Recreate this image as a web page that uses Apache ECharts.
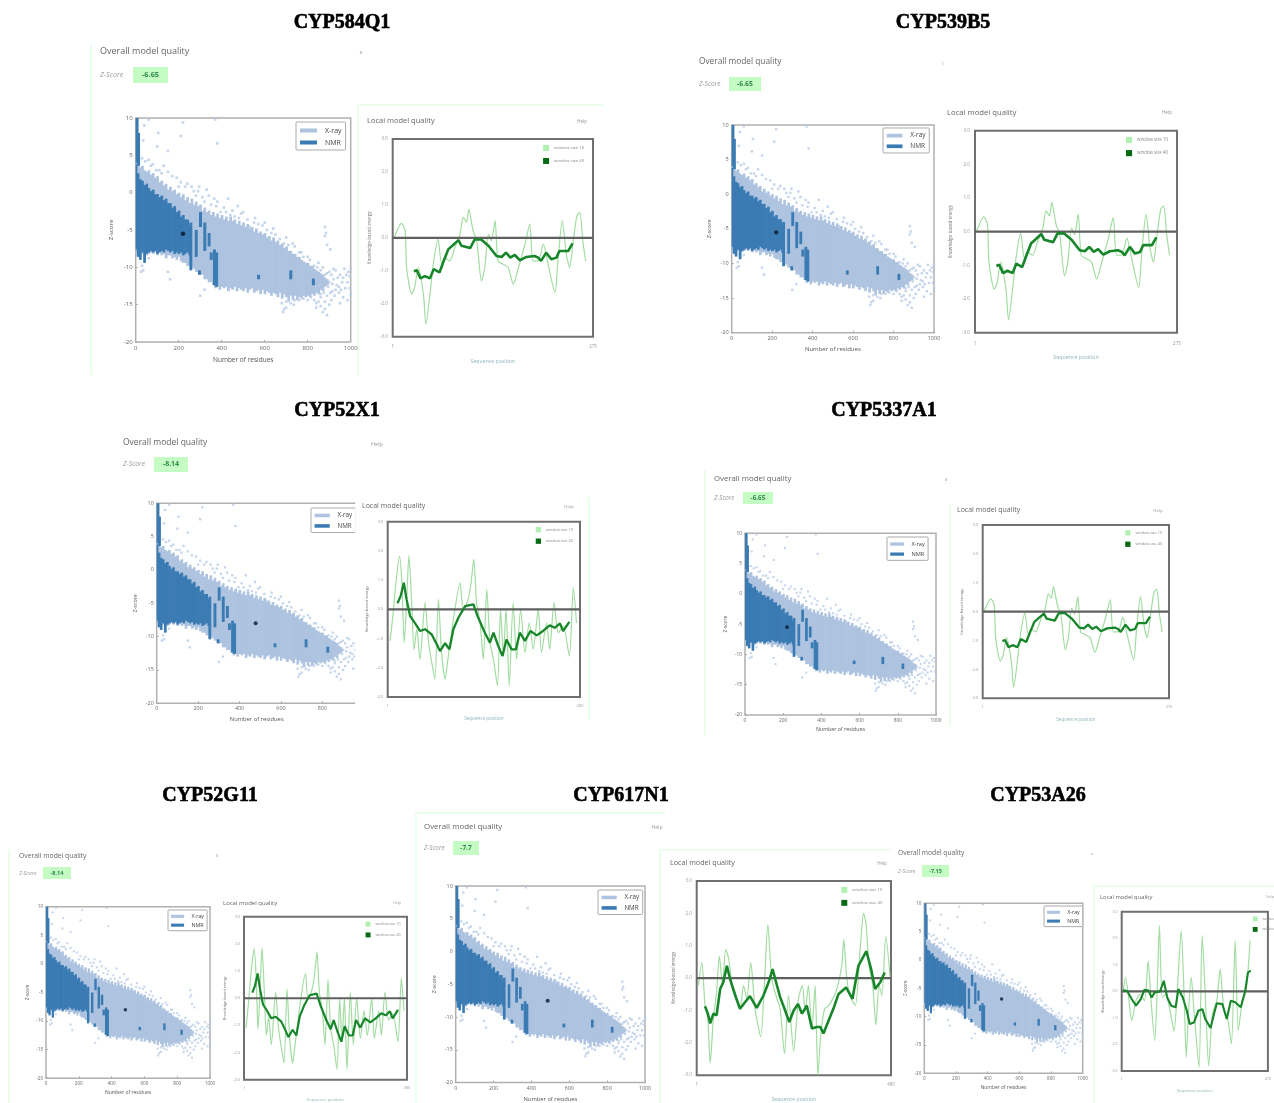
<!DOCTYPE html>
<html><head><meta charset="utf-8">
<style>html,body{margin:0;padding:0;background:#fff}#c{width:1274px;height:1103px;filter:blur(0.7px)}</style>
<script src="https://cdn.jsdelivr.net/npm/echarts@6/dist/echarts.min.js"></script></head>
<body><div id="c"></div>
<script>
// ---- shared reference cloud: [residues, top z, bottom z]
const xrayColumns=[[0,5,-8],[10,4,-8.4],[20,3.4,-8.8],[30,3.6,-8.2],[40,3,-9.2],[50,2.8,-8.4],[60,3,-8.2],[70,2.4,-8],[80,2.6,-8.2],[90,2,-8],[100,2.2,-8.4],[110,1.4,-8],[120,1.6,-8.4],[130,1,-8.2],[140,1.2,-8.8],[150,0.4,-8.4],[160,0.8,-8.4],[170,0.2,-8.8],[180,0.4,-8.6],[190,-0.2,-9],[200,0,-8.6],[210,-0.6,-9.2],[220,-0.2,-9.4],[230,-1,-9.4],[240,-0.6,-9.8],[250,-1.4,-9.8],[260,-0.8,-10],[270,-1.6,-10.2],[280,-1.2,-10.6],[290,-1.8,-10.6],[300,-1.6,-11],[310,-2.4,-11],[320,-2,-11.6],[330,-2.6,-11.6],[340,-2.4,-12],[350,-3,-12],[360,-2.6,-12.4],[370,-3.2,-12.8],[380,-2.8,-12.6],[390,-3.4,-13],[400,-3,-12.6],[410,-3.6,-12.8],[420,-3.2,-12.6],[430,-3.8,-13.2],[440,-3.2,-12.8],[450,-3.8,-13],[460,-3.6,-12.6],[470,-4.2,-13.2],[480,-3.8,-12.8],[490,-4.4,-13],[500,-4,-13.2],[510,-4.6,-12.8],[520,-4.2,-13.4],[530,-4.8,-13],[540,-4.6,-12.8],[550,-5.2,-13.4],[560,-4.8,-13.2],[570,-5.4,-13],[580,-5.2,-13.6],[590,-5.6,-13],[600,-5.4,-13.6],[610,-6,-13.2],[620,-5.8,-13.4],[630,-6.4,-13.8],[640,-6,-13.4],[650,-6.6,-13.6],[660,-6.4,-14],[670,-7,-13.4],[680,-6.8,-14.2],[690,-7.4,-13.6],[700,-7.2,-14],[710,-7.8,-14.6],[720,-7.8,-13.8],[730,-8.2,-14.4],[740,-8.2,-13.8],[750,-8.6,-14.4],[760,-8.6,-14],[770,-9,-14.2],[780,-9.2,-13.8],[790,-9.4,-14],[800,-9.4,-13.8],[810,-9.8,-14],[820,-9.8,-13.6],[830,-10.2,-13.8],[840,-10.4,-13.4],[850,-10.6,-13.6],[860,-10.8,-13],[870,-11,-13.2],[880,-11.4,-12.6],[890,-11.6,-12.4]];
const nmrColumns=[[0,3.8,-7.6],[10,2.6,-8.6],[20,1.8,-9],[30,1.6,-8],[40,1,-9.4],[50,1.2,-8.2],[60,0.6,-8],[70,0.2,-7.8],[80,0.4,-8],[90,-0.2,-7.8],[100,-0.2,-8.2],[110,-0.6,-8],[120,-0.4,-7.8],[130,-1,-8],[140,-0.8,-7.6],[150,-1.4,-7.8],[160,-1.4,-8],[170,-2,-7.8],[180,-1.8,-8.2],[190,-2.6,-8],[200,-2.4,-8.2],[210,-3.2,-8],[220,-3,-8.4],[230,-3.6,-8.2],[240,-3.6,-8],[250,-4.4,-8.4]];
const nmrStreaks=[[5,10,4],[12,8,3.6],[255,-4,-10.4],[280,-5,-8.6],[300,-2.6,-4.6],[320,-4,-7.8],[340,-5.4,-7.2],[350,-8,-9],[365,-7.6,-12.4],[375,-8,-12.6],[720,-10.4,-11.6],[825,-11.5,-12.4],[570,-11,-11.6],[295,-10.4,-11]];
const xraySparse=[[220,9.4],[105,8],[210,7.6],[380,6.6],[150,5.6],[100,6.2],[35,7],[40,9],[60,9.8],[370,9.8],[30,4.6],[45,4.2],[60,4.4],[80,3.8],[95,3],[130,3.6],[150,2.8],[170,2.2],[190,2],[210,1.4],[240,1.2],[260,0.8],[290,0.2],[280,-0.4],[310,-0.6],[320,-1.2],[295,0.8],[330,0.4],[350,-1.6],[380,-1.2],[410,-2],[430,-0.8],[395,-2.6],[440,-3],[475,-1.8],[460,-3.2],[500,-2.6],[520,-3.6],[480,-3.4],[550,-4],[590,-4.4],[530,-4.6],[610,-5],[630,-5.4],[650,-5.6],[670,-6.2],[690,-6.8],[700,-6],[710,-7],[740,-7.2],[760,-8],[780,-8.6],[810,-9],[830,-9.8],[880,-4.6],[885,-5.4],[880,-5.8],[890,-7],[905,-7.6],[870,-10],[890,-10.8],[910,-11],[930,-10.4],[950,-11],[970,-10.2],[990,-10.6],[995,-11.2],[985,-12],[960,-12],[935,-12.4],[915,-12.2],[895,-12.6],[905,-13.4],[925,-13.8],[945,-13.4],[965,-14],[985,-14.4],[1000,-13.6],[975,-12.8],[950,-14.8],[860,-14],[880,-14.6],[900,-15],[880,-15.6],[870,-16],[890,-16.4],[860,-15.2],[840,-14.8],[815,-14],[830,-14.4],[700,-14.6],[690,-15.6],[685,-16],[680,-14.8],[740,-14.4],[760,-14.4],[780,-14.2],[150,-10.6],[30,-9.8],[25,-10.6],[35,-10.4],[160,-11.6],[300,-13.8],[320,-13],[60,-8.8],[900,-12],[920,-11.6],[940,-11.4],[860,-13.6],[875,-13.4],[890,-13.8],[910,-14.4],[870,-12.8],[855,-12.4],[880,-11],[900,-10.6],[920,-10.2],[945,-12.6],[965,-11.4],[980,-11],[995,-12.8],[1000,-10.2],[955,-13],[930,-13],[915,-13.2],[845,-10],[860,-10.4],[850,-9.4],[800,-8.6],[770,-8],[730,-6.8],[640,-4.8],[600,-4],[570,-4.2],[555,-3.4],[490,-2.8],[450,-2.4],[420,-2.6],[375,-1.8],[365,-0.8],[340,-0.4],[270,0.2],[230,0.8],[200,0.8],[120,2.6],[110,3],[70,3.6],[840,-15.4],[850,-14.6],[735,-15],[720,-14.8],[800,-14.4],[700,-15.4]];

// ---- local quality profiles: [sequence position, energy]
const profileAw10=[[3,0],[13,0.44],[18,0.21],[20,-0.9],[27,-1.71],[31,-1.51],[36,-0.9],[43,-1.71],[46.5,-2.62],[52,-1.71],[56.5,-0.8],[63,-0.04],[68,-0.8],[72,-0.6],[79,-0.7],[86,-0.29],[93,0.11],[97.5,0.62],[102,0.47],[105,0.87],[111,0.21],[116,-0.09],[122.5,-1.31],[127,-0.9],[132,0.11],[136,-0.09],[141,0.52],[145,-0.7],[152,-0.8],[159,-0.9],[166,-1.41],[173,-0.9],[182,-0.19],[188.5,0.42],[193,-0.7],[200,-0.7],[207,-0.19],[213.5,-0.8],[223,-1.66],[227,-0.7],[233,0.52],[238.5,-0.5],[243,-0.9],[248,-0.09],[253,0.67],[257,0.77],[261,-0.09],[265,-0.7]];
const profileAw40=[[30,-1.02],[34,-0.98],[39,-1.23],[45,-1.16],[52,-1.23],[57,-0.95],[65,-1.05],[70,-0.75],[77,-0.35],[84,-0.21],[91,-0.07],[95,-0.24],[107,-0.31],[113,-0.05],[122,-0.05],[132,-0.24],[143,-0.55],[150,-0.58],[156,-0.45],[162,-0.6],[168,-0.52],[175,-0.68],[184,-0.58],[195,-0.55],[200,-0.6],[204,-0.7],[211,-0.45],[218,-0.65],[225,-0.6],[229,-0.4],[241,-0.4],[247,-0.17]];
const profileCw10=[[7,-1.08],[15,-0.11],[22,0.91],[31,1.82],[37,0.91],[43,-1.14],[49,0.23],[55,1.85],[62,0.23],[68,-1.37],[75,-0.68],[83,-1.71],[96,0.23],[104,-1.03],[113,-1.82],[121,-2.39],[130,0.34],[138,-1.48],[147,-2.39],[153,-1.82],[161,-1.03],[168,-0.34],[185,0.91],[193,0],[203,0.23],[212,0.8],[220,1.71],[227,0.23],[236,-0.46],[244,-1.71],[253,0.68],[261,-1.14],[270,-1.71],[280,-2.62],[288,0],[295,-1.6],[302,0],[310,-2.62],[320,0.23],[329,-1.71],[339,0],[350,-1.48],[361,-0.46],[371,-1.37],[384,0],[392,-1.48],[405,-0.46],[413,-1.37],[424,0.23],[435,-0.8],[447,-0.57],[463,-1.6],[473,0.74],[481,-0.46]];
const profileCw40=[[26,0.21],[34,0.46],[42,0.91],[49,0.34],[58,-0.23],[70,-0.46],[83,-0.74],[96,-0.68],[113,-0.86],[126,-1.2],[134,-1.43],[147,-1.16],[158,-1.37],[168,-0.68],[181,-0.28],[198,0.11],[219,0.17],[231,-0.28],[248,-0.8],[261,-1.14],[270,-0.8],[282,-1.25],[293,-1.6],[303,-1.03],[316,-1.37],[327,-1.37],[337,-0.8],[350,-1.08],[364,-0.74],[380,-0.89],[396,-0.74],[413,-0.55],[426,-0.63],[439,-0.48],[447,-0.74],[463,-0.43]];
const profileFw10=[[5,-0.23],[14,0.48],[22,-0.85],[29,-1.25],[35,-2.63],[43,-1.25],[51,-0.44],[58,0.68],[66,-0.23],[74,0.88],[82,0.58],[89,-0.13],[98,-0.44],[110,-0.95],[119,-0.23],[127,-0.64],[137,0.48],[148,-0.95],[162,-1.81],[172,-0.03],[180,1.65],[190,-0.03],[203,-0.64],[211,-0.95],[222,-2.33],[232,-0.54],[245,-2.27],[257,-0.64],[267,-0.23],[274,-1.05],[282,-0.23],[291,-1.56],[299,-0.23],[306,-3],[314,-1.66],[323,-0.95],[333,-0.85],[351,-0.44],[366,0.38],[371,1.19],[379,-0.03],[387,-0.54],[400,-0.85],[413,0.98],[421,2],[427,1.7],[435,0.37],[444,-0.23],[452,-1.45],[460,-0.23],[467,-0.54],[477,1.29],[488,-0.03]];
const profileFw40=[[22,-0.87],[29,-1.1],[35,-1.4],[43,-1.1],[51,-1.15],[60,-0.34],[68,-0.13],[77,0.38],[85,-0.03],[98,-0.54],[110,-0.95],[123,-0.74],[135,-0.56],[152,-0.92],[169,-0.54],[182,-0.13],[192,0.28],[203,-0.23],[211,-0.59],[222,-0.95],[234,-1.36],[245,-1],[256,-0.8],[266,-1.1],[278,-0.85],[291,-1.56],[303,-1.51],[312,-1.51],[320,-1.71],[333,-1.31],[345,-0.95],[358,-0.49],[377,-0.29],[393,-0.64],[408,0.38],[428,0.83],[440,0.27],[450,-0.34],[463,-0.13],[474,0.17]];
const profileGw10=[[6,0.03],[13,0.53],[22,-0.1],[33,-1.1],[47,-0.35],[60,-0.1],[74,-0.35],[86,1.15],[95,-0.35],[107,-1.86],[115,0.15],[122,2.48],[131,-0.23],[142,-0.1],[158,-0.85],[169,-1.49],[180,0.15],[192,2.28],[201,-0.1],[208,-2.48],[215,-0.85],[224,0.53],[233,-0.73],[249,-2.86],[259,2.1],[269,-0.1],[280,-2.8],[292,-0.85],[306,-0.35],[317,0.84],[329,-0.73],[342,-1.1],[353,-1.98],[365,1.91],[375,-1.48],[388,-0.35],[401,0.15],[413,1.91]];
const profileGw40=[[6,0.05],[19,0],[33,-0.29],[47,-0.54],[62,-0.29],[74,0.06],[87,0.03],[97,-0.23],[107,-0.04],[124,0],[136,0.4],[147,-0.23],[160,-0.54],[174,-0.6],[183,0.09],[197,-0.23],[210,-0.73],[219,-1.23],[233,-1.17],[247,-0.73],[260,-0.67],[269,-1.04],[286,-1.38],[297,-0.85],[306,-0.45],[324,-0.48],[338,-1.04],[351,-0.35],[365,-0.41],[383,-0.6],[397,0],[406,0.71],[415,0.78]];

const panelNames=['CYP584Q1','CYP539B5','CYP52X1','CYP5337A1','CYP52G11','CYP617N1','CYP53A26'];
const zScoreLabels=['-6.65','-6.65','-8.14','-6.65','-8.14','-7.7','-7.15'];
const modelDots=[[220,-5.5],[220,-5.5],[478,-8],[220,-5.5],[484,-8],[486,-7.5],[488,-6.9]];
const window10=[profileAw10,profileAw10,profileCw10,profileAw10,profileCw10,profileFw10,profileGw10];
const window40=[profileAw40,profileAw40,profileCw40,profileAw40,profileCw40,profileFw40,profileGw40];
const sequenceLengths=[275,275,490,275,490,490,470];
const scatterXMax=[1000,1000,966,1000,1000,1000,1000];

// ---- layout only (pixels)
const layout=[
 {t:[342,22],sc:[135.7,118,215,224],ln:[392.7,139,200.3,197.7],ov:[100,51,9],mark:[361,52,'x'],z:[100,75],box:[133,67,35,16],lo:[367,121,7.5],hp:[582,122],lg:[296,122]},
 {t:[943,22],sc:[731.7,125,202.3,207.7],ln:[975,130.7,202,202],ov:[699,62,8.3],mark:[943,63,'i'],z:[699,84],box:[729,77,32,14],lo:[947,113,7.7],hp:[1167,113],lg:[883,128]},
 {t:[337,410],sc:[156.7,503.3,200,200],ln:[387.7,521.7,192.3,175.3],ov:[123,443,8.5],mark:[377,444,'Help'],z:[123,464],box:[154,457,34,15],lo:[362,506,7],hp:[569,507],lg:[311,508]},
 {t:[884,410],sc:[745,533.3,191,181.7],ln:[982.7,525,186.3,173.3],ov:[714,479,7.8],mark:[946,480,'x'],z:[714,498],box:[743,492,30,12],lo:[957,510,7],hp:[1158,511],lg:[887,537]},
 {t:[210,795],sc:[46,906.7,164,171.6],ln:[244,916.7,163,164],ov:[19,856,6.8],mark:[217,856,'x'],z:[19,873],box:[43,867,28,12],lo:[223,903,6],hp:[397,903],lg:[168,910]},
 {t:[621,795],sc:[455.7,886,189.3,199.7],ln:[696.7,881,194.3,196.7],ov:[424,827,7.9],mark:[657,828,'Help'],z:[424,848],box:[453,841,26,14],lo:[670,863,7.2],hp:[882,864],lg:[598,890]},
 {t:[1038,795],sc:[924.3,903.3,158.4,170],ln:[1121.7,911.7,171.3,159.3],ov:[898,853,6.7],mark:[1092,854,'x'],z:[898,871],box:[922,865,27,12],lo:[1100,897,5.8],hp:[1270,897],lg:[1044,906]}
];
const frameLines=[[91,45,91,375],[358,105,603,105],[358,105,358,375],[589,497,589,720],[705,470,705,735],[950,505,950,725],[9,850,9,1103],[416,812,416,1103],[415,813,665,813],[660,850,890,850],[660,850,660,1103],[1094,886,1274,886],[1094,886,1094,1103]];

const FONT='"Open Sans",Roboto,sans-serif';
const COL_XRAY='#adc3df',COL_NMR='#3b7bb3',COL_SPARSE='#b7cbe5';
const grids=[],xAxes=[],yAxes=[],series=[],legends=[],graphics=[];

function columnRenderer(width,color){
  return function(params,api){
    const x=api.value(0),hi=api.value(1),lo=api.value(2);
    const a=api.coord([x-width/2,hi]),b=api.coord([x+width/2,lo]);
    const r=echarts.graphic.clipRectByRect(
      {x:a[0],y:a[1],width:b[0]-a[0]+0.6,height:b[1]-a[1]},
      {x:params.coordSys.x,y:params.coordSys.y,width:params.coordSys.width,height:params.coordSys.height});
    return r?{type:'rect',shape:r,style:{fill:color}}:null;
  };
}
function text(x,y,str,size,color,extra){
  graphics.push({type:'text',x,y,silent:true,z:20,style:Object.assign({text:str,fontSize:size,fill:color,fontFamily:FONT,textVerticalAlign:'middle'},extra||{})});
}
frameLines.forEach(l=>graphics.push({type:'line',silent:true,z:0,shape:{x1:l[0],y1:l[1],x2:l[2],y2:l[3]},style:{stroke:'#ebfdeb',lineWidth:2}}));
// the neighbouring plot hides the right edge of the third scatter
graphics.push({type:'line',silent:true,z:30,shape:{x1:356.7,y1:501,x2:356.7,y2:706},style:{stroke:'#fff',lineWidth:3}});

layout.forEach((p,i)=>{
  const s=p.sc[3]/224, sl=p.ln[3]/198;
  const gi=i*2;
  // scatter plot
  grids.push({left:p.sc[0],top:p.sc[1],width:p.sc[2],height:p.sc[3],show:true,borderColor:'#b0b0b0',borderWidth:1.5,backgroundColor:'#fff'});
  xAxes.push({gridIndex:gi,type:'value',min:0,max:scatterXMax[i],interval:200,name:'Number of residues',nameLocation:'middle',nameGap:14*s+1,
    nameTextStyle:{fontSize:6.5*s,color:'#555',fontFamily:FONT},axisLine:{show:false,onZero:false},splitLine:{show:false},
    axisTick:{inside:true,length:2,lineStyle:{color:'#aaa'}},axisLabel:{fontSize:6*s,color:'#666',margin:3,fontFamily:FONT,hideOverlap:false,showMaxLabel:scatterXMax[i]===1000,formatter:v=>String(v)}});
  yAxes.push({gridIndex:gi,type:'value',min:-20,max:10,interval:5,name:'Z-score',nameLocation:'middle',nameGap:21*s,
    nameTextStyle:{fontSize:6*s,color:'#555',fontFamily:FONT},axisLine:{show:false,onZero:false},splitLine:{show:false},
    axisTick:{inside:true,length:2,lineStyle:{color:'#aaa'}},axisLabel:{fontSize:6*s,color:'#666',margin:3,fontFamily:FONT}});
  const axisRef={xAxisIndex:gi,yAxisIndex:gi};
  series.push(Object.assign({type:'custom',name:'X-ray',data:xrayColumns,encode:{x:0,y:[1,2]},itemStyle:{color:COL_XRAY},renderItem:columnRenderer(10,COL_XRAY),silent:true,z:2},axisRef));
  series.push(Object.assign({type:'scatter',name:'X-ray sparse',data:xraySparse,symbol:'rect',symbolSize:2.6*s,itemStyle:{color:COL_SPARSE},silent:true,clip:true,z:3},axisRef));
  series.push(Object.assign({type:'custom',name:'NMR',data:nmrColumns,encode:{x:0,y:[1,2]},itemStyle:{color:COL_NMR},renderItem:columnRenderer(10,COL_NMR),silent:true,z:4},axisRef));
  series.push(Object.assign({type:'custom',name:'NMR streaks',data:nmrStreaks,encode:{x:0,y:[1,2]},itemStyle:{color:COL_NMR},renderItem:columnRenderer(11,COL_NMR),silent:true,z:4},axisRef));
  series.push(Object.assign({type:'scatter',name:'This model',data:[modelDots[i]],symbolSize:4.5*s,itemStyle:{color:'#08162c'},silent:true,z:6},axisRef));
  legends.push({data:['X-ray','NMR'],orient:'vertical',left:p.lg[0],top:p.lg[1],selectedMode:false,backgroundColor:'#fff',
    borderColor:'#aaa',borderWidth:1,borderRadius:1,padding:[5*s,4*s,4*s,4*s],itemGap:5*s,itemWidth:17*s,itemHeight:4*s,icon:'rect',
    textStyle:{fontSize:7*s,color:'#444',fontFamily:FONT,padding:[0,0,0,3*s]},z:8});

  // local quality plot
  const n=sequenceLengths[i];
  grids.push({left:p.ln[0],top:p.ln[1],width:p.ln[2],height:p.ln[3],show:true,borderColor:'#6f6f6f',borderWidth:2,backgroundColor:'rgba(255,255,255,0)'});
  xAxes.push({gridIndex:gi+1,type:'value',min:1,max:n,name:'Sequence position',nameLocation:'middle',nameGap:22*sl,
    nameTextStyle:{fontSize:5.2*sl,color:'#8fb3b8',fontFamily:FONT},axisLine:{show:false,onZero:false},splitLine:{show:false},axisTick:{show:false},
    axisLabel:{fontSize:4.5*sl,color:'#999',margin:8*sl,fontFamily:FONT,customValues:[1,n]}});
  yAxes.push({gridIndex:gi+1,type:'value',min:-3,max:3,interval:1,name:'Knowledge-based energy',nameLocation:'middle',nameGap:21*sl,
    nameTextStyle:{fontSize:4.5*sl,color:'#777',fontFamily:FONT},axisLine:{show:false,onZero:false},splitLine:{show:false},axisTick:{show:false},
    axisLabel:{fontSize:4.5*sl,color:'#999',margin:5*sl,fontFamily:FONT,formatter:v=>v.toFixed(1)}});
  const ref2={xAxisIndex:gi+1,yAxisIndex:gi+1};
  series.push(Object.assign({type:'line',name:'window size 10',data:window10[i],showSymbol:false,symbol:'none',smooth:0.25,lineStyle:{color:'#a2dca2',width:1.2},itemStyle:{color:'#b0f0b0'},silent:true,z:5},ref2));
  series.push(Object.assign({type:'line',name:'zero',data:[[1,0],[n,0]],showSymbol:false,symbol:'none',lineStyle:{color:'#5f5f5f',width:2.2},silent:true,z:6},ref2));
  series.push(Object.assign({type:'line',name:'window size 40',data:window40[i],showSymbol:false,symbol:'none',lineStyle:{color:'#17852a',width:2.6*sl},itemStyle:{color:'#056a12'},silent:true,z:7},ref2));
  legends.push({data:['window size 10','window size 40'],orient:'vertical',left:p.ln[0]+p.ln[2]-50*sl,top:p.ln[1]+6*sl,selectedMode:false,padding:0,
    itemGap:7*sl,itemWidth:6*sl,itemHeight:6*sl,icon:'rect',textStyle:{fontSize:4.3*sl,color:'#888',fontFamily:FONT,padding:[0,0,0,0]},z:8});

  // headings
  text(p.t[0],p.t[1]+1,panelNames[i],20,'#000',{fontFamily:'"Liberation Serif",serif',fontWeight:'bold',textAlign:'center',stroke:'#000',lineWidth:0.6});
  text(p.ov[0],p.ov[1],'Overall model quality',p.ov[2],'#666',{fontWeight:500});
  text(p.mark[0],p.mark[1],p.mark[2],p.ov[2]*0.65,'#999',{textAlign:'center'});
  text(p.z[0],p.z[1],'Z-Score',p.ov[2]*0.8,'#999',{fontStyle:'italic'});
  graphics.push({type:'rect',silent:true,z:19,shape:{x:p.box[0],y:p.box[1],width:p.box[2],height:p.box[3]},style:{fill:'#c4fcc4'}});
  text(p.box[0]+p.box[2]/2,p.box[1]+p.box[3]/2,zScoreLabels[i],p.ov[2]*0.82,'#2f8a50',{textAlign:'center',fontWeight:'bold'});
  text(p.lo[0],p.lo[1],'Local model quality',p.lo[2],'#666',{fontWeight:500});
  text(p.hp[0],p.hp[1],'Help',p.lo[2]*0.62,'#999',{textAlign:'center'});
});

const chart=echarts.init(document.getElementById('c'),null,{renderer:'canvas'});
chart.setOption({animation:false,backgroundColor:'#fff',tooltip:{show:false},grid:grids,xAxis:xAxes,yAxis:yAxes,series,legend:legends,graphic:{elements:graphics}});
</script></body></html>
